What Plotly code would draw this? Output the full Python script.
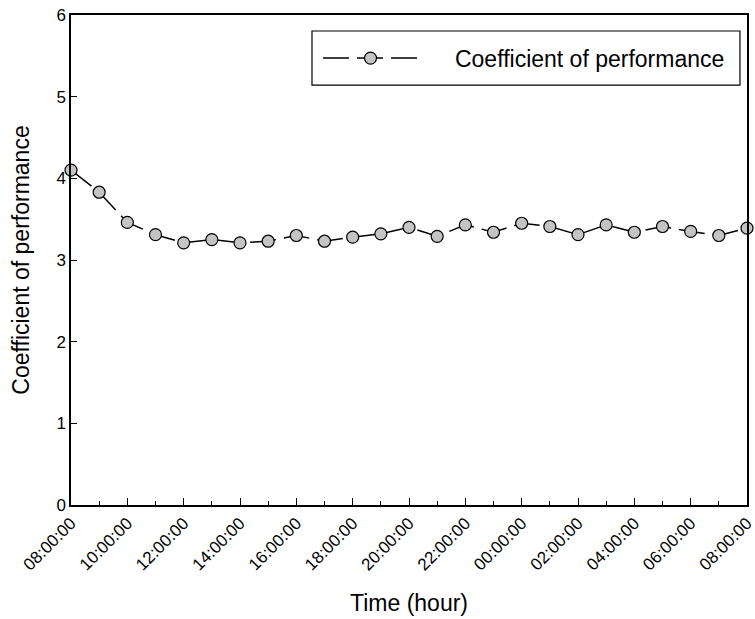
import plotly.graph_objects as go

times = [
    "2024-01-01 08:00:00", "2024-01-01 09:00:00", "2024-01-01 10:00:00",
    "2024-01-01 11:00:00", "2024-01-01 12:00:00", "2024-01-01 13:00:00",
    "2024-01-01 14:00:00", "2024-01-01 15:00:00", "2024-01-01 16:00:00",
    "2024-01-01 17:00:00", "2024-01-01 18:00:00", "2024-01-01 19:00:00",
    "2024-01-01 20:00:00", "2024-01-01 21:00:00", "2024-01-01 22:00:00",
    "2024-01-01 23:00:00", "2024-01-02 00:00:00", "2024-01-02 01:00:00",
    "2024-01-02 02:00:00", "2024-01-02 03:00:00", "2024-01-02 04:00:00",
    "2024-01-02 05:00:00", "2024-01-02 06:00:00", "2024-01-02 07:00:00",
    "2024-01-02 08:00:00",
]
cop = [4.10, 3.83, 3.46, 3.31, 3.21, 3.25, 3.21, 3.23, 3.30, 3.23,
       3.28, 3.32, 3.40, 3.29, 3.43, 3.34, 3.45, 3.41, 3.31, 3.43,
       3.34, 3.41, 3.35, 3.30, 3.39]

series_name = "Coefficient of performance"
x_title = "Time (hour)"
y_title = "Coefficient of performance"
y_ticks = [0, 1, 2, 3, 4, 5, 6]

FONT = "Arial, 'Liberation Sans', Helvetica, sans-serif"
NBSP = "\u00a0"

fig = go.Figure()
fig.add_trace(go.Scatter(
    x=times, y=cop, mode="lines+markers", name=NBSP * 5 + series_name,
    line=dict(color="black", width=1.5, dash="26px,8px"),
    marker=dict(size=12, color="#c4c4c4", line=dict(color="black", width=1.2)),
    cliponaxis=False,
))

# legend frame
fig.add_shape(type="rect", xref="paper", yref="paper",
              x0=0.3565, x1=0.9896, y0=0.857, y1=0.9673,
              line=dict(color="black", width=1.2), fillcolor="white", layer="below")

fig.update_layout(
    width=755, height=619,
    margin=dict(l=71, r=8, t=15, b=114, pad=0),
    paper_bgcolor="white", plot_bgcolor="white",
    font=dict(family=FONT, color="black", size=17),
    showlegend=True,
    legend=dict(
        x=0.3654, y=0.912, xanchor="left", yanchor="middle",
        bgcolor="rgba(0,0,0,0)", borderwidth=0,
        font=dict(size=23, family=FONT, color="black"),
        itemwidth=95,
    ),
    xaxis=dict(
        type="date",
        range=["2024-01-01 08:00:00", "2024-01-02 08:00:00.001"],
        tickformat="%H:%M:%S", dtick=2 * 3600 * 1000,
        tick0="2024-01-01 08:00:00",
        tickangle=-45, ticks="inside", ticklen=7, tickwidth=1.2, tickcolor="black",
        minor=dict(dtick=3600 * 1000, ticks="inside", ticklen=4, tickwidth=1.2, tickcolor="black", showgrid=False),
        showline=True, linecolor="black", linewidth=1.5, mirror=True,
        showgrid=False, zeroline=False, automargin=False,
        ticklabeloverflow="allow",
        tickfont=dict(size=17),
        title=dict(text=x_title, font=dict(size=23), standoff=22),
    ),
    yaxis=dict(
        range=[0, 6], tickvals=y_ticks,
        ticks="inside", ticklen=6, tickwidth=1.2, tickcolor="black",
        showline=True, linecolor="black", linewidth=1.5, mirror=True,
        showgrid=False, zeroline=False, automargin=False,
        tickfont=dict(size=17),
        title=dict(text=y_title, font=dict(size=23), standoff=20),
    ),
)

fig.write_html("out.html", config={"displayModeBar": False},
               post_script="document.body.style.margin='0';")
